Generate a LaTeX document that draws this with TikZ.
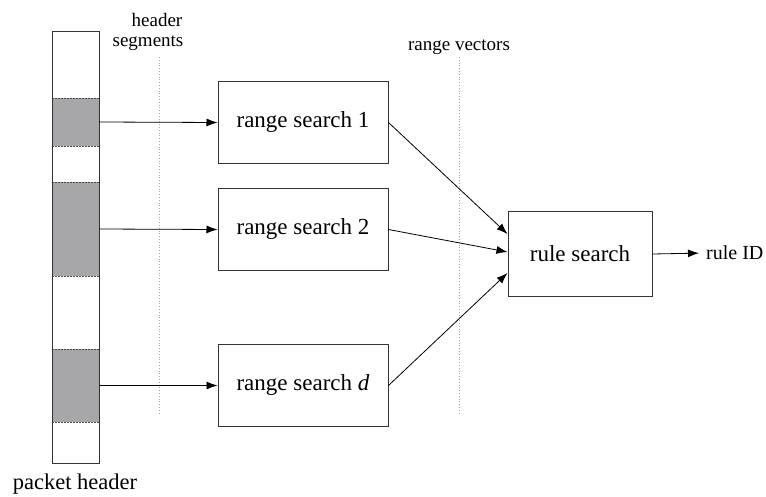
\documentclass[tikz,border=0pt]{standalone}
\usepackage{fontspec}
\setmainfont{Liberation Serif}
\usetikzlibrary{arrows.meta,calc}
\definecolor{segfill}{HTML}{A7A7AA}
\definecolor{ln}{HTML}{333333}
\tikzset{
  box/.style={draw=ln, line width=1pt, minimum width=170pt, minimum height=82pt, inner sep=0pt, font=\fontsize{23}{27}\selectfont},
  seg/.style={fill=segfill, minimum width=47pt, inner sep=0pt},
  sepline/.style={draw=gray!70, line width=0.8pt, dotted},
  segedge/.style={draw=gray!60!black, line width=0.5pt, densely dotted},
  conn/.style={draw=black, line width=0.8pt, -{Latex[length=11pt,width=8pt]}},
  lbl/.style={font=\fontsize{19}{21}\selectfont, align=center, inner sep=0pt},
}
\begin{document}
\begin{tikzpicture}[x=1pt,y=-1pt]
\useasboundingbox (0,0) rectangle (766,497);
% packet header column
\node[seg, minimum height=48pt] (s1) at (75.5,122) {};
\node[seg, minimum height=94pt] (s2) at (75.5,229) {};
\node[seg, minimum height=73pt] (s3) at (75.5,385.5) {};
\foreach \s in {s1,s2,s3}{
  \draw[segedge] (\s.north west) -- (\s.north east);
  \draw[segedge] (\s.south west) -- (\s.south east);
}
\node[draw=ln, line width=1pt, minimum width=47pt, minimum height=431pt, inner sep=0pt] (ph) at (75.5,247.5) {};
\node[lbl, font=\fontsize{22.5}{25}\selectfont, anchor=base] (phl) at (75,489) {packet header};
% dotted separators
\draw[sepline] (159,57) -- (159,415);
\draw[sepline] (459,57) -- (459,415);
\node[lbl, anchor=base] (hs) at (157,27) {header};
\node[lbl, anchor=base] (hs2) at (148,47) {segments};
\node[lbl, anchor=base] (rv) at (459,51) {range vectors};
% range search boxes
\node[box] (r1) at (303,122.5) {range search 1};
\node[box] (r2) at (303,229.5) {range search 2};
\node[box] (rd) at (303,385.5) {range search \textit{d}};
% rule search
\node[box, minimum width=144pt, minimum height=84pt] (rs) at (580,254) {rule search};
\node[lbl, anchor=west, font=\fontsize{20}{22}\selectfont] (rid) at (706,253) {rule ID};
% connectors
\draw[conn] (s1.east) -- (r1.west);
\draw[conn] (s2.east) -- (r2.west);
\draw[conn] (s3.east) -- (rd.west);
\draw[conn] (r1.east) -- ([yshift=20pt]rs.west);
\draw[conn] (r2.east) -- ([yshift=2pt]rs.west);
\draw[conn] (rd.east) -- ([yshift=-19pt]rs.west);
\draw[conn, shorten >=7pt] (rs.east) -- (rid.west);
\end{tikzpicture}
\end{document}
